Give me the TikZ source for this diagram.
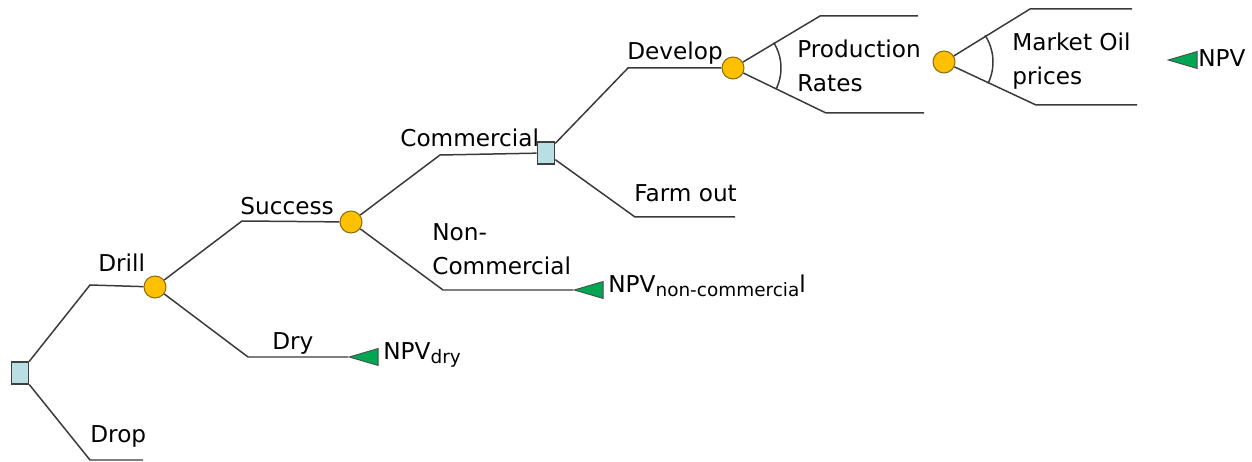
\documentclass[tikz,border=0pt]{standalone}
\usepackage{fontspec}
\setmainfont{DejaVu Sans}
\usepackage{tikz}
\usetikzlibrary{shapes.geometric}

\definecolor{chancefill}{HTML}{FFC000}
\definecolor{chanceline}{HTML}{8C6D10}
\definecolor{decfill}{HTML}{B9DFE4}
\definecolor{payfill}{HTML}{00A651}
\definecolor{branchcol}{HTML}{3A3A3A}

% small lowered index after NPV
\newcommand{\npvsub}[1]{\raisebox{-0.15em}{\fontsize{10.5}{12}\selectfont #1}}

\begin{document}
\begin{tikzpicture}[x=0.02cm, y=-0.02cm,
        chance/.style={circle, draw=chanceline, fill=chancefill, minimum size=4.4mm, inner sep=0pt, line width=0.6pt},
        decision/.style={rectangle, draw=black!75, fill=decfill, minimum width=3.5mm, minimum height=4.4mm, inner sep=0pt, line width=0.6pt},
        payoff/.style={isosceles triangle, isosceles triangle stretches, shape border rotate=180, draw=black!70, fill=payfill, minimum width=3.4mm, minimum height=5.8mm, inner sep=0pt, line width=0.5pt},
        br/.style={draw=branchcol, line width=0.85pt},
        lbl/.style={anchor=base west, inner sep=0pt, font=\fontsize{13.2}{19.8}\selectfont},
        lbl2/.style={lbl, align=left}
    ]
        \useasboundingbox (0,0) rectangle (1252,462);

        % decision and chance nodes
        \node (root) [decision] at (20,373) {};
        \node (drill) [chance] at (155,287) {};
        \node (success) [chance] at (351,222) {};
        \node (comm) [decision] at (546,153) {};
        \node (develop) [chance] at (733,68) {};
        \node (rates) [chance] at (944,62) {};

        % end values
        \node (npvdry) [payoff, anchor=apex] at (348,357) {};
        \node (npvnc) [payoff, anchor=apex] at (573,290) {};
        \node (npv) [payoff, anchor=apex] at (1167,60) {};

        % open branch ends
        \coordinate (edrop) at (143,460);
        \coordinate (efarm) at (735,217);
        \coordinate (eprodhi) at (918,16);
        \coordinate (eprodlo) at (924,113);
        \coordinate (emkthi) at (1132,9);
        \coordinate (emktlo) at (1137,105);

        % branches
        \draw[br] (root) -- (90,285) -- (drill);
        \draw[br] (root) -- (90,460) -- (edrop);
        \draw[br] (drill) -- (242,221) -- (success);
        \draw[br] (drill) -- (248,357) -- (npvdry);
        \draw[br] (success) -- (440,155) -- (comm);
        \draw[br] (success) -- (443,290) -- (npvnc);
        \draw[br] (comm) -- (628,68) -- (develop);
        \draw[br] (comm) -- (635,217) -- (efarm);
        \draw[br] (develop) -- (820,16) -- (eprodhi);
        \draw[br] (develop) -- (826,113) -- (eprodlo);
        \draw[br] (rates) -- (1030,9) -- (emkthi);
        \draw[br] (rates) -- (1036,105) -- (emktlo);

        % spread arcs of the continuous chances
        \draw[br] ([shift={(32:0.96cm)}]develop.center) arc[start angle=32, end angle=-26, radius=0.96cm];
        \draw[br] ([shift={(33:0.98cm)}]rates.center) arc[start angle=33, end angle=-26, radius=0.98cm];

        % labels (two-line ones sit on their last line)
        \node (ldrill) [lbl] at (98,272) {Drill};
        \node (ldrop) [lbl] at (90,443) {Drop};
        \node (lsucc) [lbl] at (240,215) {Success};
        \node (ldry) [lbl] at (272,350) {Dry};
        \node (lcomm) [lbl] at (400,147) {Commercial};
        \node (lnoncomm) [lbl2] at (432,275) {Non-\\Commercial};
        \node (ldev) [lbl] at (627,60) {Develop};
        \node (lfarm) [lbl] at (634,202) {Farm out};
        \node (lrates) [lbl2] at (797,92) {Production\\Rates};
        \node (lprice) [lbl2] at (1012,85) {Market Oil\\prices};

        \node (tdry) [lbl] at (383,360) {NPV\npvsub{dry}};
        \node (tnc) [lbl] at (608,293) {NPV\npvsub{non-commercia}l};
        \node (tnpv) [lbl] at (1198,67) {NPV};
    \end{tikzpicture}
\end{document}
